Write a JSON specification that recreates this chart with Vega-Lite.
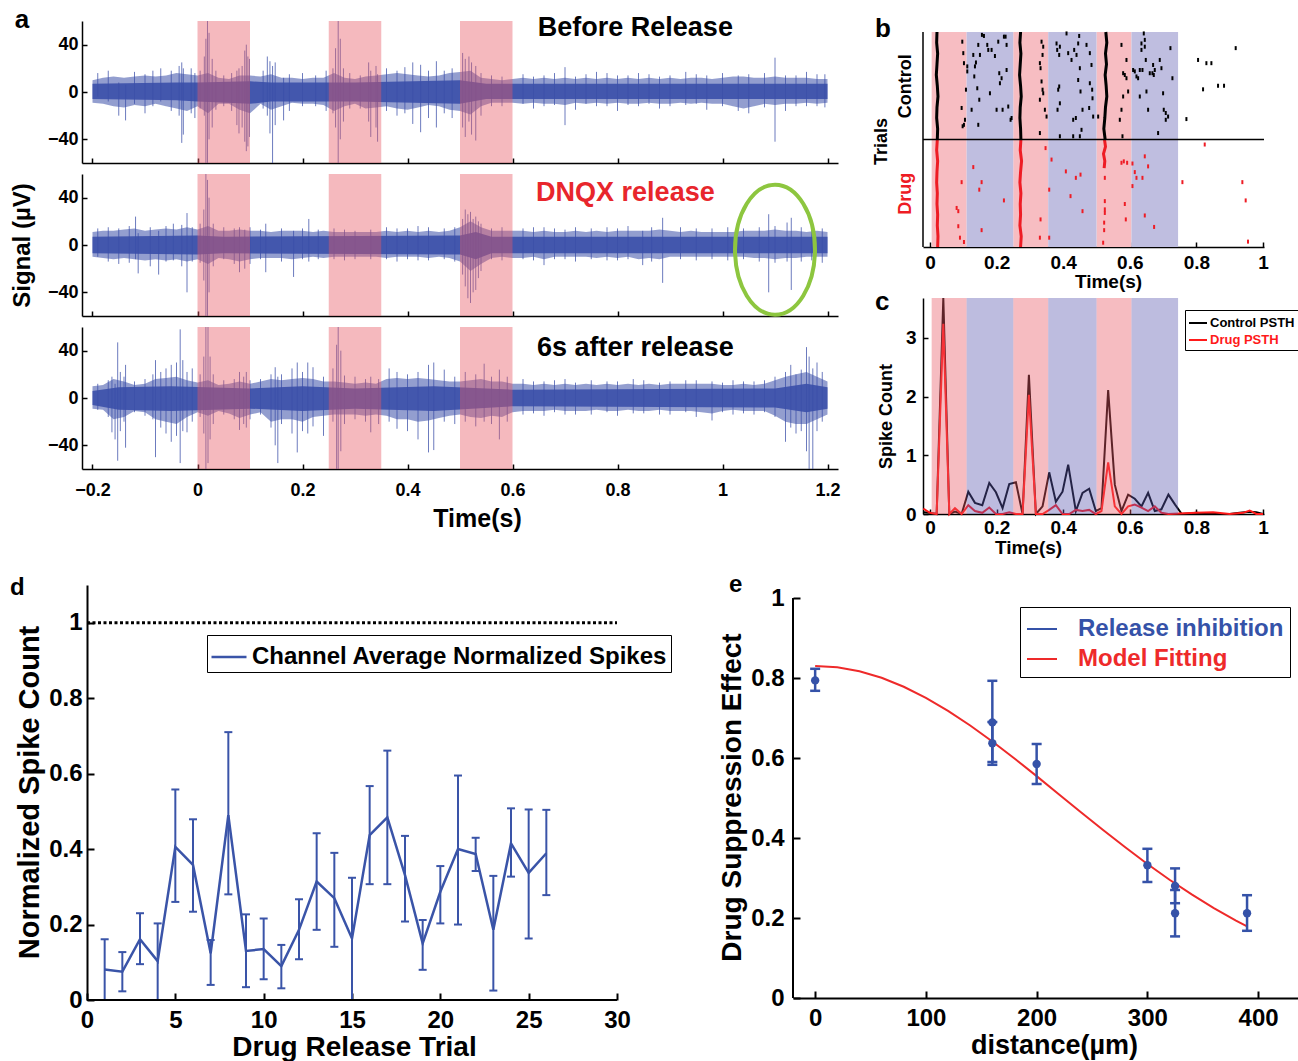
{
"$schema":"https://vega.github.io/schema/vega-lite/v6.json",
"background":"white",
"padding":{"left":10,"top":6,"right":0,"bottom":0},
"config":{"font":"Liberation Sans","view":{"stroke":null},
"axis":{"grid":false,"domainColor":"black","domainWidth":1.5,"tickColor":"black","tickWidth":1.5,"labelColor":"black","titleColor":"black","labelFontWeight":"bold","titleFontWeight":"bold","labelFlush":false,"labelOverlap":false},
"legend":{"labelColor":"black","labelLimit":600}},
"datasets":{
"band":[
{"k":1,"t":-0.2,"h":10,"l":-9},{"k":1,"t":-0.18,"h":12,"l":-10},{"k":1,"t":-0.16,"h":13,"l":-12},{"k":1,"t":-0.14,"h":12,"l":-13},{"k":1,"t":-0.12,"h":13,"l":-11},{"k":1,"t":-0.1,"h":14,"l":-12},{"k":1,"t":-0.08,"h":13,"l":-10},{"k":1,"t":-0.06,"h":14,"l":-12},{"k":1,"t":-0.04,"h":16,"l":-14},{"k":1,"t":-0.02,"h":15,"l":-16},{"k":1,"t":0,"h":14,"l":-12},{"k":1,"t":0.02,"h":16,"l":-18},{"k":1,"t":0.04,"h":12,"l":-10},{"k":1,"t":0.06,"h":11,"l":-10},{"k":1,"t":0.08,"h":14,"l":-15},{"k":1,"t":0.1,"h":14,"l":-18},{"k":1,"t":0.12,"h":13,"l":-10},{"k":1,"t":0.14,"h":15,"l":-15},{"k":1,"t":0.16,"h":12,"l":-12},{"k":1,"t":0.18,"h":12,"l":-9},{"k":1,"t":0.2,"h":11,"l":-10},{"k":1,"t":0.22,"h":12,"l":-10},{"k":1,"t":0.24,"h":12,"l":-11},{"k":1,"t":0.26,"h":16,"l":-16},{"k":1,"t":0.28,"h":12,"l":-12},{"k":1,"t":0.3,"h":11,"l":-10},{"k":1,"t":0.32,"h":13,"l":-14},{"k":1,"t":0.34,"h":14,"l":-13},{"k":1,"t":0.36,"h":15,"l":-12},{"k":1,"t":0.38,"h":16,"l":-14},{"k":1,"t":0.4,"h":15,"l":-15},{"k":1,"t":0.42,"h":14,"l":-13},{"k":1,"t":0.44,"h":13,"l":-11},{"k":1,"t":0.46,"h":14,"l":-12},{"k":1,"t":0.48,"h":16,"l":-15},{"k":1,"t":0.5,"h":17,"l":-16},{"k":1,"t":0.52,"h":18,"l":-19},{"k":1,"t":0.54,"h":12,"l":-12},{"k":1,"t":0.56,"h":11,"l":-9},{"k":1,"t":0.58,"h":10,"l":-9},{"k":1,"t":0.6,"h":11,"l":-9},{"k":1,"t":0.62,"h":12,"l":-10},{"k":1,"t":0.64,"h":11,"l":-9},{"k":1,"t":0.66,"h":12,"l":-10},{"k":1,"t":0.68,"h":11,"l":-10},{"k":1,"t":0.7,"h":12,"l":-11},{"k":1,"t":0.72,"h":11,"l":-9},{"k":1,"t":0.74,"h":12,"l":-10},{"k":1,"t":0.76,"h":11,"l":-9},{"k":1,"t":0.78,"h":12,"l":-10},{"k":1,"t":0.8,"h":11,"l":-9},{"k":1,"t":0.82,"h":12,"l":-10},{"k":1,"t":0.84,"h":11,"l":-10},{"k":1,"t":0.86,"h":12,"l":-9},{"k":1,"t":0.88,"h":11,"l":-10},{"k":1,"t":0.9,"h":12,"l":-10},{"k":1,"t":0.92,"h":11,"l":-9},{"k":1,"t":0.94,"h":12,"l":-10},{"k":1,"t":0.96,"h":12,"l":-9},{"k":1,"t":0.98,"h":11,"l":-10},{"k":1,"t":1,"h":12,"l":-10},{"k":1,"t":1.02,"h":13,"l":-12},{"k":1,"t":1.04,"h":13,"l":-14},{"k":1,"t":1.06,"h":12,"l":-12},{"k":1,"t":1.08,"h":12,"l":-10},{"k":1,"t":1.1,"h":13,"l":-11},{"k":1,"t":1.12,"h":12,"l":-10},{"k":1,"t":1.14,"h":12,"l":-10},{"k":1,"t":1.16,"h":12,"l":-9},{"k":1,"t":1.18,"h":11,"l":-10},{"k":1,"t":1.2,"h":11,"l":-9},
{"k":2,"t":-0.2,"h":11,"l":-10},{"k":2,"t":-0.18,"h":12,"l":-11},{"k":2,"t":-0.16,"h":12,"l":-12},{"k":2,"t":-0.14,"h":13,"l":-11},{"k":2,"t":-0.12,"h":14,"l":-12},{"k":2,"t":-0.1,"h":12,"l":-13},{"k":2,"t":-0.08,"h":13,"l":-12},{"k":2,"t":-0.06,"h":14,"l":-13},{"k":2,"t":-0.04,"h":13,"l":-12},{"k":2,"t":-0.02,"h":15,"l":-14},{"k":2,"t":0,"h":13,"l":-12},{"k":2,"t":0.02,"h":16,"l":-16},{"k":2,"t":0.04,"h":12,"l":-11},{"k":2,"t":0.06,"h":12,"l":-12},{"k":2,"t":0.08,"h":13,"l":-14},{"k":2,"t":0.1,"h":12,"l":-12},{"k":2,"t":0.12,"h":12,"l":-11},{"k":2,"t":0.14,"h":11,"l":-11},{"k":2,"t":0.16,"h":12,"l":-11},{"k":2,"t":0.18,"h":12,"l":-12},{"k":2,"t":0.2,"h":12,"l":-11},{"k":2,"t":0.22,"h":11,"l":-10},{"k":2,"t":0.24,"h":12,"l":-11},{"k":2,"t":0.26,"h":11,"l":-10},{"k":2,"t":0.28,"h":11,"l":-10},{"k":2,"t":0.3,"h":11,"l":-10},{"k":2,"t":0.32,"h":11,"l":-10},{"k":2,"t":0.34,"h":11,"l":-10},{"k":2,"t":0.36,"h":12,"l":-11},{"k":2,"t":0.38,"h":11,"l":-10},{"k":2,"t":0.4,"h":12,"l":-10},{"k":2,"t":0.42,"h":11,"l":-10},{"k":2,"t":0.44,"h":12,"l":-11},{"k":2,"t":0.46,"h":11,"l":-10},{"k":2,"t":0.48,"h":12,"l":-11},{"k":2,"t":0.5,"h":15,"l":-14},{"k":2,"t":0.52,"h":20,"l":-22},{"k":2,"t":0.54,"h":15,"l":-16},{"k":2,"t":0.56,"h":12,"l":-11},{"k":2,"t":0.58,"h":12,"l":-10},{"k":2,"t":0.6,"h":12,"l":-11},{"k":2,"t":0.62,"h":12,"l":-11},{"k":2,"t":0.64,"h":11,"l":-10},{"k":2,"t":0.66,"h":12,"l":-12},{"k":2,"t":0.68,"h":11,"l":-10},{"k":2,"t":0.7,"h":11,"l":-10},{"k":2,"t":0.72,"h":12,"l":-10},{"k":2,"t":0.74,"h":11,"l":-10},{"k":2,"t":0.76,"h":12,"l":-11},{"k":2,"t":0.78,"h":11,"l":-10},{"k":2,"t":0.8,"h":12,"l":-11},{"k":2,"t":0.82,"h":12,"l":-10},{"k":2,"t":0.84,"h":12,"l":-12},{"k":2,"t":0.86,"h":12,"l":-11},{"k":2,"t":0.88,"h":13,"l":-12},{"k":2,"t":0.9,"h":12,"l":-10},{"k":2,"t":0.92,"h":11,"l":-10},{"k":2,"t":0.94,"h":12,"l":-10},{"k":2,"t":0.96,"h":11,"l":-10},{"k":2,"t":0.98,"h":11,"l":-10},{"k":2,"t":1,"h":11,"l":-10},{"k":2,"t":1.02,"h":11,"l":-10},{"k":2,"t":1.04,"h":12,"l":-10},{"k":2,"t":1.06,"h":12,"l":-11},{"k":2,"t":1.08,"h":12,"l":-11},{"k":2,"t":1.1,"h":13,"l":-12},{"k":2,"t":1.12,"h":12,"l":-11},{"k":2,"t":1.14,"h":12,"l":-11},{"k":2,"t":1.16,"h":11,"l":-10},{"k":2,"t":1.18,"h":12,"l":-10},{"k":2,"t":1.2,"h":11,"l":-10},
{"k":3,"t":-0.2,"h":10,"l":-9},{"k":3,"t":-0.18,"h":11,"l":-10},{"k":3,"t":-0.16,"h":16,"l":-18},{"k":3,"t":-0.14,"h":14,"l":-16},{"k":3,"t":-0.12,"h":11,"l":-11},{"k":3,"t":-0.1,"h":12,"l":-12},{"k":3,"t":-0.08,"h":16,"l":-18},{"k":3,"t":-0.06,"h":17,"l":-20},{"k":3,"t":-0.04,"h":18,"l":-22},{"k":3,"t":-0.02,"h":15,"l":-16},{"k":3,"t":0,"h":13,"l":-12},{"k":3,"t":0.02,"h":15,"l":-15},{"k":3,"t":0.04,"h":11,"l":-11},{"k":3,"t":0.06,"h":12,"l":-13},{"k":3,"t":0.08,"h":14,"l":-17},{"k":3,"t":0.1,"h":12,"l":-14},{"k":3,"t":0.12,"h":14,"l":-12},{"k":3,"t":0.14,"h":16,"l":-20},{"k":3,"t":0.16,"h":15,"l":-18},{"k":3,"t":0.18,"h":16,"l":-18},{"k":3,"t":0.2,"h":17,"l":-20},{"k":3,"t":0.22,"h":16,"l":-16},{"k":3,"t":0.24,"h":14,"l":-15},{"k":3,"t":0.26,"h":14,"l":-14},{"k":3,"t":0.28,"h":13,"l":-14},{"k":3,"t":0.3,"h":12,"l":-14},{"k":3,"t":0.32,"h":13,"l":-15},{"k":3,"t":0.34,"h":12,"l":-14},{"k":3,"t":0.36,"h":16,"l":-15},{"k":3,"t":0.38,"h":17,"l":-18},{"k":3,"t":0.4,"h":16,"l":-18},{"k":3,"t":0.42,"h":17,"l":-20},{"k":3,"t":0.44,"h":16,"l":-19},{"k":3,"t":0.46,"h":15,"l":-17},{"k":3,"t":0.48,"h":14,"l":-15},{"k":3,"t":0.5,"h":14,"l":-14},{"k":3,"t":0.52,"h":15,"l":-16},{"k":3,"t":0.54,"h":16,"l":-17},{"k":3,"t":0.56,"h":14,"l":-15},{"k":3,"t":0.58,"h":14,"l":-16},{"k":3,"t":0.6,"h":12,"l":-12},{"k":3,"t":0.62,"h":12,"l":-11},{"k":3,"t":0.64,"h":11,"l":-11},{"k":3,"t":0.66,"h":12,"l":-11},{"k":3,"t":0.68,"h":11,"l":-10},{"k":3,"t":0.7,"h":12,"l":-11},{"k":3,"t":0.72,"h":11,"l":-11},{"k":3,"t":0.74,"h":12,"l":-11},{"k":3,"t":0.76,"h":11,"l":-10},{"k":3,"t":0.78,"h":12,"l":-11},{"k":3,"t":0.8,"h":11,"l":-11},{"k":3,"t":0.82,"h":12,"l":-10},{"k":3,"t":0.84,"h":11,"l":-11},{"k":3,"t":0.86,"h":12,"l":-11},{"k":3,"t":0.88,"h":11,"l":-10},{"k":3,"t":0.9,"h":12,"l":-11},{"k":3,"t":0.92,"h":12,"l":-11},{"k":3,"t":0.94,"h":12,"l":-11},{"k":3,"t":0.96,"h":12,"l":-12},{"k":3,"t":0.98,"h":12,"l":-13},{"k":3,"t":1,"h":11,"l":-11},{"k":3,"t":1.02,"h":11,"l":-10},{"k":3,"t":1.04,"h":12,"l":-11},{"k":3,"t":1.06,"h":11,"l":-11},{"k":3,"t":1.08,"h":12,"l":-11},{"k":3,"t":1.1,"h":15,"l":-15},{"k":3,"t":1.12,"h":18,"l":-20},{"k":3,"t":1.14,"h":20,"l":-22},{"k":3,"t":1.16,"h":22,"l":-22},{"k":3,"t":1.18,"h":18,"l":-18},{"k":3,"t":1.2,"h":14,"l":-14}
],
"core":[
{"k":1,"t":-0.2,"h":7,"l":-6},{"k":1,"t":-0.04,"h":8,"l":-7},{"k":1,"t":0,"h":8,"l":-8},{"k":1,"t":0.1,"h":9,"l":-10},{"k":1,"t":0.14,"h":8,"l":-8},{"k":1,"t":0.3,"h":8,"l":-8},{"k":1,"t":0.5,"h":10,"l":-10},{"k":1,"t":0.55,"h":7,"l":-6},{"k":1,"t":1.2,"h":7,"l":-6},
{"k":2,"t":-0.2,"h":7,"l":-7},{"k":2,"t":0,"h":8,"l":-8},{"k":2,"t":0.05,"h":7,"l":-7},{"k":2,"t":0.5,"h":8,"l":-8},{"k":2,"t":0.53,"h":11,"l":-12},{"k":2,"t":0.56,"h":7,"l":-7},{"k":2,"t":1.2,"h":7,"l":-7},
{"k":3,"t":-0.2,"h":6,"l":-6},{"k":3,"t":-0.15,"h":9,"l":-10},{"k":3,"t":-0.05,"h":10,"l":-11},{"k":3,"t":0.1,"h":8,"l":-9},{"k":3,"t":0.2,"h":10,"l":-11},{"k":3,"t":0.3,"h":8,"l":-9},{"k":3,"t":0.45,"h":10,"l":-11},{"k":3,"t":0.6,"h":7,"l":-7},{"k":3,"t":1.1,"h":8,"l":-8},{"k":3,"t":1.16,"h":12,"l":-12},{"k":3,"t":1.2,"h":9,"l":-9}
],
"spk":[
{"k":1,"t":-0.19,"h":16,"l":-4},{"k":1,"t":-0.17,"h":18,"l":-8},{"k":1,"t":-0.15,"h":8,"l":-20},{"k":1,"t":-0.137,"h":6,"l":-24},{"k":1,"t":-0.12,"h":17,"l":-10},{"k":1,"t":-0.1,"h":15,"l":-18},{"k":1,"t":-0.085,"h":18,"l":-12},{"k":1,"t":-0.07,"h":20,"l":-8},{"k":1,"t":-0.05,"h":18,"l":-16},{"k":1,"t":-0.035,"h":22,"l":-20},{"k":1,"t":-0.03,"h":25,"l":-43},{"k":1,"t":-0.027,"h":20,"l":-36},{"k":1,"t":-0.012,"h":20,"l":-18},{"k":1,"t":-0.005,"h":16,"l":-22},{"k":1,"t":0.005,"h":18,"l":-14},{"k":1,"t":0.013,"h":30,"l":-20},{"k":1,"t":0.016,"h":45,"l":-60},{"k":1,"t":0.019,"h":60,"l":-60},{"k":1,"t":0.022,"h":50,"l":-40},{"k":1,"t":0.028,"h":28,"l":-30},{"k":1,"t":0.035,"h":18,"l":-15},{"k":1,"t":0.05,"h":14,"l":-12},{"k":1,"t":0.065,"h":16,"l":-16},{"k":1,"t":0.075,"h":18,"l":-28},{"k":1,"t":0.079,"h":20,"l":-35},{"k":1,"t":0.085,"h":22,"l":-30},{"k":1,"t":0.09,"h":35,"l":-42},{"k":1,"t":0.093,"h":40,"l":-50},{"k":1,"t":0.096,"h":30,"l":-46},{"k":1,"t":0.099,"h":28,"l":-38},{"k":1,"t":0.125,"h":18,"l":-14},{"k":1,"t":0.133,"h":30,"l":-20},{"k":1,"t":0.138,"h":26,"l":-35},{"k":1,"t":0.143,"h":22,"l":-60},{"k":1,"t":0.148,"h":25,"l":-28},{"k":1,"t":0.164,"h":12,"l":-24},{"k":1,"t":0.175,"h":15,"l":-16},{"k":1,"t":0.2,"h":16,"l":-12},{"k":1,"t":0.225,"h":14,"l":-12},{"k":1,"t":0.245,"h":18,"l":-16},{"k":1,"t":0.258,"h":20,"l":-18},{"k":1,"t":0.263,"h":37,"l":-30},{"k":1,"t":0.268,"h":60,"l":-60},{"k":1,"t":0.272,"h":45,"l":-40},{"k":1,"t":0.278,"h":20,"l":-25},{"k":1,"t":0.29,"h":16,"l":-14},{"k":1,"t":0.31,"h":14,"l":-14},{"k":1,"t":0.326,"h":25,"l":-25},{"k":1,"t":0.33,"h":18,"l":-38},{"k":1,"t":0.34,"h":22,"l":-30},{"k":1,"t":0.343,"h":15,"l":-42},{"k":1,"t":0.36,"h":20,"l":-16},{"k":1,"t":0.38,"h":18,"l":-20},{"k":1,"t":0.395,"h":21,"l":-18},{"k":1,"t":0.41,"h":25,"l":-27},{"k":1,"t":0.425,"h":23,"l":-34},{"k":1,"t":0.44,"h":18,"l":-22},{"k":1,"t":0.455,"h":26,"l":-30},{"k":1,"t":0.47,"h":18,"l":-18},{"k":1,"t":0.485,"h":20,"l":-22},{"k":1,"t":0.505,"h":33,"l":-30},{"k":1,"t":0.51,"h":28,"l":-38},{"k":1,"t":0.517,"h":30,"l":-25},{"k":1,"t":0.522,"h":25,"l":-36},{"k":1,"t":0.53,"h":22,"l":-41},{"k":1,"t":0.54,"h":16,"l":-20},{"k":1,"t":0.56,"h":14,"l":-12},{"k":1,"t":0.58,"h":13,"l":-12},{"k":1,"t":0.62,"h":15,"l":-10},{"k":1,"t":0.64,"h":13,"l":-14},{"k":1,"t":0.66,"h":14,"l":-12},{"k":1,"t":0.68,"h":16,"l":-11},{"k":1,"t":0.7,"h":21,"l":-28},{"k":1,"t":0.72,"h":13,"l":-15},{"k":1,"t":0.74,"h":15,"l":-10},{"k":1,"t":0.76,"h":17,"l":-12},{"k":1,"t":0.78,"h":16,"l":-12},{"k":1,"t":0.8,"h":14,"l":-16},{"k":1,"t":0.82,"h":14,"l":-11},{"k":1,"t":0.84,"h":16,"l":-12},{"k":1,"t":0.86,"h":15,"l":-10},{"k":1,"t":0.88,"h":13,"l":-14},{"k":1,"t":0.9,"h":14,"l":-12},{"k":1,"t":0.93,"h":17,"l":-11},{"k":1,"t":0.95,"h":15,"l":-10},{"k":1,"t":0.97,"h":14,"l":-15},{"k":1,"t":1,"h":16,"l":-12},{"k":1,"t":1.03,"h":14,"l":-16},{"k":1,"t":1.05,"h":15,"l":-18},{"k":1,"t":1.08,"h":16,"l":-13},{"k":1,"t":1.1,"h":29,"l":-42},{"k":1,"t":1.12,"h":14,"l":-16},{"k":1,"t":1.14,"h":14,"l":-12},{"k":1,"t":1.16,"h":17,"l":-12},{"k":1,"t":1.18,"h":15,"l":-12},{"k":1,"t":1.195,"h":15,"l":-13},
{"k":2,"t":-0.19,"h":14,"l":-10},{"k":2,"t":-0.17,"h":15,"l":-14},{"k":2,"t":-0.15,"h":14,"l":-16},{"k":2,"t":-0.13,"h":16,"l":-15},{"k":2,"t":-0.118,"h":24,"l":-12},{"k":2,"t":-0.113,"h":10,"l":-24},{"k":2,"t":-0.09,"h":15,"l":-18},{"k":2,"t":-0.074,"h":12,"l":-25},{"k":2,"t":-0.06,"h":16,"l":-14},{"k":2,"t":-0.046,"h":18,"l":-13},{"k":2,"t":-0.03,"h":17,"l":-18},{"k":2,"t":-0.02,"h":27,"l":-40},{"k":2,"t":-0.01,"h":15,"l":-14},{"k":2,"t":0.005,"h":18,"l":-15},{"k":2,"t":0.012,"h":30,"l":-30},{"k":2,"t":0.016,"h":60,"l":-60},{"k":2,"t":0.019,"h":55,"l":-60},{"k":2,"t":0.022,"h":40,"l":-40},{"k":2,"t":0.03,"h":18,"l":-18},{"k":2,"t":0.05,"h":15,"l":-12},{"k":2,"t":0.07,"h":14,"l":-16},{"k":2,"t":0.08,"h":15,"l":-23},{"k":2,"t":0.09,"h":13,"l":-20},{"k":2,"t":0.1,"h":15,"l":-16},{"k":2,"t":0.12,"h":13,"l":-12},{"k":2,"t":0.13,"h":18,"l":-23},{"k":2,"t":0.16,"h":14,"l":-14},{"k":2,"t":0.183,"h":12,"l":-27},{"k":2,"t":0.2,"h":14,"l":-12},{"k":2,"t":0.212,"h":22,"l":-14},{"k":2,"t":0.23,"h":13,"l":-12},{"k":2,"t":0.26,"h":14,"l":-12},{"k":2,"t":0.28,"h":13,"l":-13},{"k":2,"t":0.3,"h":12,"l":-12},{"k":2,"t":0.33,"h":13,"l":-12},{"k":2,"t":0.36,"h":15,"l":-12},{"k":2,"t":0.38,"h":14,"l":-14},{"k":2,"t":0.4,"h":14,"l":-12},{"k":2,"t":0.42,"h":16,"l":-13},{"k":2,"t":0.44,"h":15,"l":-13},{"k":2,"t":0.47,"h":14,"l":-12},{"k":2,"t":0.49,"h":15,"l":-14},{"k":2,"t":0.505,"h":22,"l":-25},{"k":2,"t":0.51,"h":30,"l":-35},{"k":2,"t":0.515,"h":26,"l":-45},{"k":2,"t":0.52,"h":28,"l":-49},{"k":2,"t":0.525,"h":22,"l":-40},{"k":2,"t":0.53,"h":24,"l":-38},{"k":2,"t":0.535,"h":20,"l":-28},{"k":2,"t":0.54,"h":18,"l":-22},{"k":2,"t":0.56,"h":14,"l":-12},{"k":2,"t":0.58,"h":15,"l":-13},{"k":2,"t":0.62,"h":14,"l":-12},{"k":2,"t":0.64,"h":15,"l":-13},{"k":2,"t":0.66,"h":15,"l":-17},{"k":2,"t":0.68,"h":14,"l":-12},{"k":2,"t":0.7,"h":13,"l":-12},{"k":2,"t":0.72,"h":15,"l":-14},{"k":2,"t":0.75,"h":14,"l":-12},{"k":2,"t":0.78,"h":15,"l":-13},{"k":2,"t":0.8,"h":14,"l":-13},{"k":2,"t":0.82,"h":16,"l":-12},{"k":2,"t":0.848,"h":12,"l":-17},{"k":2,"t":0.865,"h":15,"l":-14},{"k":2,"t":0.886,"h":23,"l":-32},{"k":2,"t":0.92,"h":15,"l":-12},{"k":2,"t":0.95,"h":14,"l":-13},{"k":2,"t":0.98,"h":14,"l":-12},{"k":2,"t":1.01,"h":15,"l":-13},{"k":2,"t":1.04,"h":14,"l":-12},{"k":2,"t":1.07,"h":15,"l":-14},{"k":2,"t":1.088,"h":26,"l":-40},{"k":2,"t":1.1,"h":16,"l":-15},{"k":2,"t":1.123,"h":19,"l":-14},{"k":2,"t":1.131,"h":23,"l":-38},{"k":2,"t":1.15,"h":15,"l":-14},{"k":2,"t":1.17,"h":14,"l":-13},{"k":2,"t":1.19,"h":14,"l":-15},
{"k":3,"t":-0.19,"h":12,"l":-10},{"k":3,"t":-0.17,"h":15,"l":-16},{"k":3,"t":-0.163,"h":18,"l":-29},{"k":3,"t":-0.157,"h":12,"l":-35},{"k":3,"t":-0.152,"h":47,"l":-53},{"k":3,"t":-0.147,"h":22,"l":-28},{"k":3,"t":-0.14,"h":18,"l":-20},{"k":3,"t":-0.137,"h":28,"l":-42},{"k":3,"t":-0.12,"h":14,"l":-12},{"k":3,"t":-0.1,"h":16,"l":-15},{"k":3,"t":-0.085,"h":20,"l":-18},{"k":3,"t":-0.08,"h":32,"l":-50},{"k":3,"t":-0.07,"h":22,"l":-25},{"k":3,"t":-0.06,"h":25,"l":-30},{"k":3,"t":-0.05,"h":28,"l":-37},{"k":3,"t":-0.04,"h":30,"l":-32},{"k":3,"t":-0.033,"h":58,"l":-55},{"k":3,"t":-0.028,"h":32,"l":-28},{"k":3,"t":-0.02,"h":22,"l":-29},{"k":3,"t":-0.01,"h":25,"l":-20},{"k":3,"t":0.005,"h":20,"l":-16},{"k":3,"t":0.012,"h":35,"l":-30},{"k":3,"t":0.016,"h":60,"l":-60},{"k":3,"t":0.02,"h":60,"l":-55},{"k":3,"t":0.024,"h":35,"l":-35},{"k":3,"t":0.03,"h":20,"l":-22},{"k":3,"t":0.05,"h":15,"l":-14},{"k":3,"t":0.07,"h":16,"l":-18},{"k":3,"t":0.08,"h":22,"l":-27},{"k":3,"t":0.088,"h":18,"l":-22},{"k":3,"t":0.093,"h":22,"l":-25},{"k":3,"t":0.1,"h":15,"l":-18},{"k":3,"t":0.12,"h":16,"l":-14},{"k":3,"t":0.14,"h":20,"l":-25},{"k":3,"t":0.148,"h":26,"l":-40},{"k":3,"t":0.153,"h":18,"l":-55},{"k":3,"t":0.16,"h":20,"l":-22},{"k":3,"t":0.18,"h":25,"l":-30},{"k":3,"t":0.19,"h":30,"l":-46},{"k":3,"t":0.2,"h":22,"l":-28},{"k":3,"t":0.21,"h":30,"l":-30},{"k":3,"t":0.22,"h":26,"l":-24},{"k":3,"t":0.24,"h":18,"l":-32},{"k":3,"t":0.258,"h":25,"l":-20},{"k":3,"t":0.265,"h":45,"l":-60},{"k":3,"t":0.268,"h":60,"l":-60},{"k":3,"t":0.273,"h":40,"l":-45},{"k":3,"t":0.28,"h":19,"l":-22},{"k":3,"t":0.3,"h":18,"l":-18},{"k":3,"t":0.32,"h":16,"l":-20},{"k":3,"t":0.33,"h":18,"l":-29},{"k":3,"t":0.345,"h":16,"l":-22},{"k":3,"t":0.365,"h":25,"l":-20},{"k":3,"t":0.38,"h":22,"l":-26},{"k":3,"t":0.4,"h":20,"l":-28},{"k":3,"t":0.42,"h":22,"l":-35},{"k":3,"t":0.44,"h":28,"l":-46},{"k":3,"t":0.45,"h":30,"l":-44},{"k":3,"t":0.47,"h":24,"l":-20},{"k":3,"t":0.49,"h":18,"l":-22},{"k":3,"t":0.51,"h":22,"l":-20},{"k":3,"t":0.53,"h":20,"l":-24},{"k":3,"t":0.546,"h":29,"l":-20},{"k":3,"t":0.56,"h":18,"l":-22},{"k":3,"t":0.575,"h":24,"l":-35},{"k":3,"t":0.59,"h":18,"l":-20},{"k":3,"t":0.62,"h":16,"l":-14},{"k":3,"t":0.64,"h":14,"l":-13},{"k":3,"t":0.66,"h":14,"l":-15},{"k":3,"t":0.68,"h":15,"l":-12},{"k":3,"t":0.7,"h":16,"l":-14},{"k":3,"t":0.72,"h":13,"l":-14},{"k":3,"t":0.75,"h":15,"l":-14},{"k":3,"t":0.78,"h":14,"l":-12},{"k":3,"t":0.8,"h":14,"l":-15},{"k":3,"t":0.83,"h":16,"l":-13},{"k":3,"t":0.85,"h":15,"l":-13},{"k":3,"t":0.88,"h":13,"l":-14},{"k":3,"t":0.9,"h":14,"l":-14},{"k":3,"t":0.93,"h":15,"l":-12},{"k":3,"t":0.95,"h":15,"l":-16},{"k":3,"t":0.98,"h":14,"l":-19},{"k":3,"t":1,"h":13,"l":-12},{"k":3,"t":1.02,"h":15,"l":-14},{"k":3,"t":1.04,"h":14,"l":-13},{"k":3,"t":1.06,"h":14,"l":-14},{"k":3,"t":1.08,"h":15,"l":-12},{"k":3,"t":1.1,"h":18,"l":-16},{"k":3,"t":1.12,"h":22,"l":-37},{"k":3,"t":1.13,"h":28,"l":-25},{"k":3,"t":1.14,"h":20,"l":-30},{"k":3,"t":1.15,"h":24,"l":-28},{"k":3,"t":1.16,"h":43,"l":-45},{"k":3,"t":1.165,"h":35,"l":-60},{"k":3,"t":1.172,"h":25,"l":-60},{"k":3,"t":1.18,"h":30,"l":-28},{"k":3,"t":1.19,"h":22,"l":-20}
],
"letters":[{"p":"a","x":-0.348,"y":54.1,"label":"a"},{"p":"b","x":-0.165,"y":1.4,"label":"b"},{"p":"c","x":-0.165,"y":3.476,"label":"c"},{"p":"d","x":-4.358,"y":1.0735,"label":"d"},{"p":"e","x":-77.8,"y":1.015,"label":"e"}],
"pinkA":[{"s":0,"e":0.1},{"s":0.25,"e":0.35},{"s":0.5,"e":0.6}],
"pinkB":[{"s":0.005,"e":0.11},{"s":0.25,"e":0.355},{"s":0.5,"e":0.605}],
"blueB":[{"s":0.11,"e":0.25},{"s":0.355,"e":0.5},{"s":0.605,"e":0.745}],
"lbl":[{"k":1,"t":0.834,"v":54,"label":"Before Release"},{"k":2,"t":0.815,"v":44,"label":"DNQX release"},{"k":3,"t":0.834,"v":42,"label":"6s after release"}],
"ell":[{"t":1.1,"v":-4}],
"rcol":[
{"col":"c1","g":"C","t":0.021,"y":0},{"col":"c1","g":"C","t":0.02,"y":3},{"col":"c1","g":"C","t":0.023,"y":6},{"col":"c1","g":"C","t":0.021,"y":9},{"col":"c1","g":"C","t":0.019,"y":12},{"col":"c1","g":"C","t":0.022,"y":15},{"col":"c1","g":"C","t":0.024,"y":18},{"col":"c1","g":"C","t":0.021,"y":21},{"col":"c1","g":"C","t":0.02,"y":24},{"col":"c1","g":"C","t":0.023,"y":27},{"col":"c1","g":"C","t":0.022,"y":30},
{"col":"c2","g":"C","t":0.272,"y":0},{"col":"c2","g":"C","t":0.27,"y":3},{"col":"c2","g":"C","t":0.273,"y":6},{"col":"c2","g":"C","t":0.271,"y":9},{"col":"c2","g":"C","t":0.269,"y":12},{"col":"c2","g":"C","t":0.272,"y":15},{"col":"c2","g":"C","t":0.274,"y":18},{"col":"c2","g":"C","t":0.271,"y":21},{"col":"c2","g":"C","t":0.27,"y":24},{"col":"c2","g":"C","t":0.272,"y":27},{"col":"c2","g":"C","t":0.273,"y":30},
{"col":"c3","g":"C","t":0.528,"y":0},{"col":"c3","g":"C","t":0.531,"y":3},{"col":"c3","g":"C","t":0.527,"y":6},{"col":"c3","g":"C","t":0.53,"y":9},{"col":"c3","g":"C","t":0.526,"y":12},{"col":"c3","g":"C","t":0.529,"y":15},{"col":"c3","g":"C","t":0.531,"y":18},{"col":"c3","g":"C","t":0.527,"y":21},{"col":"c3","g":"C","t":0.525,"y":24},{"col":"c3","g":"C","t":0.522,"y":27},{"col":"c3","g":"C","t":0.526,"y":30},
{"col":"d1","g":"D","t":0.022,"y":30},{"col":"d1","g":"D","t":0.02,"y":33},{"col":"d1","g":"D","t":0.023,"y":36},{"col":"d1","g":"D","t":0.021,"y":39},{"col":"d1","g":"D","t":0.02,"y":42},{"col":"d1","g":"D","t":0.022,"y":45},{"col":"d1","g":"D","t":0.021,"y":48},{"col":"d1","g":"D","t":0.023,"y":51},{"col":"d1","g":"D","t":0.022,"y":54},{"col":"d1","g":"D","t":0.024,"y":57},{"col":"d1","g":"D","t":0.023,"y":60},
{"col":"d2","g":"D","t":0.273,"y":30},{"col":"d2","g":"D","t":0.271,"y":33},{"col":"d2","g":"D","t":0.275,"y":36},{"col":"d2","g":"D","t":0.272,"y":39},{"col":"d2","g":"D","t":0.27,"y":42},{"col":"d2","g":"D","t":0.273,"y":45},{"col":"d2","g":"D","t":0.271,"y":48},{"col":"d2","g":"D","t":0.272,"y":51},{"col":"d2","g":"D","t":0.27,"y":54},{"col":"d2","g":"D","t":0.274,"y":57},{"col":"d2","g":"D","t":0.272,"y":60},
{"col":"d3","g":"D","t":0.524,"y":30},{"col":"d3","g":"D","t":0.527,"y":32},{"col":"d3","g":"D","t":0.521,"y":34},{"col":"d3","g":"D","t":0.525,"y":36},{"col":"d3","g":"D","t":0.523,"y":38}
],
"rast":[
{"g":"C","t":0.097,"y":2.7},{"g":"C","t":0.1,"y":5.9},{"g":"C","t":0.102,"y":8.7},{"g":"C","t":0.112,"y":9.6},{"g":"C","t":0.112,"y":11},{"g":"C","t":0.108,"y":16.1},{"g":"C","t":0.095,"y":21.2},{"g":"C","t":0.105,"y":24.5},{"g":"C","t":0.102,"y":25.9},{"g":"C","t":0.098,"y":26.3},{"g":"C","t":0.13,"y":6.4},{"g":"C","t":0.133,"y":12.4},{"g":"C","t":0.138,"y":8.5},{"g":"C","t":0.145,"y":3.6},{"g":"C","t":0.15,"y":6.4},{"g":"C","t":0.142,"y":15.7},{"g":"C","t":0.148,"y":18.9},{"g":"C","t":0.156,"y":0.8},{"g":"C","t":0.162,"y":1.1},{"g":"C","t":0.172,"y":3.6},{"g":"C","t":0.175,"y":5},{"g":"C","t":0.18,"y":17.1},{"g":"C","t":0.185,"y":5},{"g":"C","t":0.195,"y":6.7},{"g":"C","t":0.2,"y":21.7},{"g":"C","t":0.205,"y":2.7},{"g":"C","t":0.208,"y":11.5},{"g":"C","t":0.21,"y":14.3},{"g":"C","t":0.215,"y":12.9},{"g":"C","t":0.218,"y":21.7},{"g":"C","t":0.222,"y":1.3},{"g":"C","t":0.227,"y":1.3},{"g":"C","t":0.23,"y":3.6},{"g":"C","t":0.23,"y":10.6},{"g":"C","t":0.235,"y":20.8},{"g":"C","t":0.242,"y":24.5},{"g":"C","t":0.245,"y":24},{"g":"C","t":0.125,"y":21.7},{"g":"C","t":0.145,"y":25.9},{"g":"C","t":0.135,"y":9.6},
{"g":"C","t":0.335,"y":2.7},{"g":"C","t":0.34,"y":4.1},{"g":"C","t":0.338,"y":6.4},{"g":"C","t":0.33,"y":8.7},{"g":"C","t":0.332,"y":10.1},{"g":"C","t":0.335,"y":13.8},{"g":"C","t":0.338,"y":16.1},{"g":"C","t":0.33,"y":18.9},{"g":"C","t":0.345,"y":21.7},{"g":"C","t":0.35,"y":23.6},{"g":"C","t":0.33,"y":28.2},{"g":"C","t":0.34,"y":17.1},{"g":"C","t":0.38,"y":3.2},{"g":"C","t":0.382,"y":5},{"g":"C","t":0.388,"y":6.4},{"g":"C","t":0.39,"y":4.1},{"g":"C","t":0.385,"y":16.1},{"g":"C","t":0.388,"y":15.2},{"g":"C","t":0.39,"y":19.9},{"g":"C","t":0.383,"y":21.7},{"g":"C","t":0.39,"y":29.1},{"g":"C","t":0.41,"y":0.4},{"g":"C","t":0.415,"y":5.9},{"g":"C","t":0.425,"y":7.8},{"g":"C","t":0.433,"y":5},{"g":"C","t":0.44,"y":6.4},{"g":"C","t":0.445,"y":3.2},{"g":"C","t":0.448,"y":1.1},{"g":"C","t":0.45,"y":10.1},{"g":"C","t":0.445,"y":13.4},{"g":"C","t":0.452,"y":16.6},{"g":"C","t":0.438,"y":24},{"g":"C","t":0.43,"y":24.5},{"g":"C","t":0.455,"y":27.3},{"g":"C","t":0.458,"y":21.7},{"g":"C","t":0.47,"y":3.6},{"g":"C","t":0.48,"y":5.9},{"g":"C","t":0.485,"y":9.2},{"g":"C","t":0.48,"y":14.3},{"g":"C","t":0.487,"y":16.1},{"g":"C","t":0.478,"y":21.2},{"g":"C","t":0.488,"y":18.5},{"g":"C","t":0.45,"y":29.1},{"g":"C","t":0.49,"y":23.6},{"g":"C","t":0.505,"y":23.6},{"g":"C","t":0.43,"y":29.1},
{"g":"C","t":0.575,"y":3.6},{"g":"C","t":0.58,"y":11.5},{"g":"C","t":0.585,"y":12},{"g":"C","t":0.59,"y":12.9},{"g":"C","t":0.595,"y":16.6},{"g":"C","t":0.58,"y":18},{"g":"C","t":0.575,"y":21.7},{"g":"C","t":0.57,"y":24.5},{"g":"C","t":0.578,"y":29.1},{"g":"C","t":0.61,"y":10.6},{"g":"C","t":0.615,"y":11},{"g":"C","t":0.62,"y":12.4},{"g":"C","t":0.625,"y":12.9},{"g":"C","t":0.63,"y":10.6},{"g":"C","t":0.638,"y":10.6},{"g":"C","t":0.645,"y":2.2},{"g":"C","t":0.642,"y":0.4},{"g":"C","t":0.635,"y":3.2},{"g":"C","t":0.645,"y":4.1},{"g":"C","t":0.648,"y":7.8},{"g":"C","t":0.66,"y":11.5},{"g":"C","t":0.668,"y":11.5},{"g":"C","t":0.672,"y":12},{"g":"C","t":0.65,"y":16.6},{"g":"C","t":0.67,"y":9.2},{"g":"C","t":0.675,"y":10.6},{"g":"C","t":0.69,"y":7.8},{"g":"C","t":0.695,"y":10.1},{"g":"C","t":0.7,"y":17.1},{"g":"C","t":0.702,"y":21.7},{"g":"C","t":0.708,"y":22.6},{"g":"C","t":0.715,"y":23.6},{"g":"C","t":0.708,"y":24.5},{"g":"C","t":0.685,"y":28.2},{"g":"C","t":0.722,"y":4.5},{"g":"C","t":0.728,"y":12.9},{"g":"C","t":0.59,"y":7.8},{"g":"C","t":0.655,"y":21.7},{"g":"C","t":0.63,"y":18},{"g":"C","t":0.635,"y":5},
{"g":"C","t":0.77,"y":24.3},{"g":"C","t":0.805,"y":7.8},{"g":"C","t":0.82,"y":16},{"g":"C","t":0.83,"y":8.7},{"g":"C","t":0.845,"y":8.7},{"g":"C","t":0.865,"y":15},{"g":"C","t":0.883,"y":15},{"g":"C","t":0.918,"y":4.5},
{"g":"D","t":0.13,"y":37.7},{"g":"D","t":0.095,"y":41.9},{"g":"D","t":0.155,"y":41.9},{"g":"D","t":0.148,"y":44},{"g":"D","t":0.222,"y":47},{"g":"D","t":0.08,"y":49.1},{"g":"D","t":0.085,"y":50},{"g":"D","t":0.085,"y":54.2},{"g":"D","t":0.155,"y":55.3},{"g":"D","t":0.09,"y":57.4},{"g":"D","t":0.102,"y":58.6},{"g":"D","t":0.347,"y":32.4},{"g":"D","t":0.365,"y":35.6},{"g":"D","t":0.358,"y":44},{"g":"D","t":0.332,"y":52.3},{"g":"D","t":0.33,"y":57.4},{"g":"D","t":0.358,"y":57.4},{"g":"D","t":0.408,"y":38.9},{"g":"D","t":0.438,"y":40.7},{"g":"D","t":0.452,"y":39.8},{"g":"D","t":0.422,"y":45.8},{"g":"D","t":0.458,"y":50},{"g":"D","t":0.575,"y":36.5},{"g":"D","t":0.582,"y":36.1},{"g":"D","t":0.592,"y":36.5},{"g":"D","t":0.608,"y":36.7},{"g":"D","t":0.645,"y":34.7},{"g":"D","t":0.655,"y":37.5},{"g":"D","t":0.615,"y":39.1},{"g":"D","t":0.62,"y":40.7},{"g":"D","t":0.638,"y":40.7},{"g":"D","t":0.608,"y":43},{"g":"D","t":0.585,"y":48},{"g":"D","t":0.588,"y":52.3},{"g":"D","t":0.645,"y":51.2},{"g":"D","t":0.673,"y":54.4},{"g":"D","t":0.825,"y":31.4},{"g":"D","t":0.758,"y":41.9},{"g":"D","t":0.938,"y":41.9},{"g":"D","t":0.948,"y":47},{"g":"D","t":0.955,"y":58.5},{"g":"D","t":0.525,"y":40.7},{"g":"D","t":0.525,"y":47.2},{"g":"D","t":0.525,"y":49.5},{"g":"D","t":0.523,"y":53.2},{"g":"D","t":0.523,"y":55.3},{"g":"D","t":0.52,"y":58.8},{"g":"D","t":0.525,"y":50.5}
],
"psth":[
{"ser":"Control PSTH","t":-0.02,"v":0.03},{"ser":"Control PSTH","t":0,"v":0.02},{"ser":"Control PSTH","t":0.02,"v":0},{"ser":"Control PSTH","t":0.04,"v":3.68},{"ser":"Control PSTH","t":0.058,"v":0},{"ser":"Control PSTH","t":0.075,"v":0.04},{"ser":"Control PSTH","t":0.095,"v":0},{"ser":"Control PSTH","t":0.115,"v":0.38},{"ser":"Control PSTH","t":0.135,"v":0.19},{"ser":"Control PSTH","t":0.157,"v":0.15},{"ser":"Control PSTH","t":0.178,"v":0.53},{"ser":"Control PSTH","t":0.198,"v":0.37},{"ser":"Control PSTH","t":0.218,"v":0.1},{"ser":"Control PSTH","t":0.238,"v":0.51},{"ser":"Control PSTH","t":0.258,"v":0.54},{"ser":"Control PSTH","t":0.278,"v":0},{"ser":"Control PSTH","t":0.297,"v":2.37},{"ser":"Control PSTH","t":0.318,"v":0},{"ser":"Control PSTH","t":0.338,"v":0.13},{"ser":"Control PSTH","t":0.358,"v":0.71},{"ser":"Control PSTH","t":0.378,"v":0.21},{"ser":"Control PSTH","t":0.398,"v":0.38},{"ser":"Control PSTH","t":0.415,"v":0.84},{"ser":"Control PSTH","t":0.438,"v":0.05},{"ser":"Control PSTH","t":0.458,"v":0.36},{"ser":"Control PSTH","t":0.478,"v":0.43},{"ser":"Control PSTH","t":0.498,"v":0.05},{"ser":"Control PSTH","t":0.515,"v":0.1},{"ser":"Control PSTH","t":0.535,"v":2.11},{"ser":"Control PSTH","t":0.555,"v":0.5},{"ser":"Control PSTH","t":0.575,"v":0.05},{"ser":"Control PSTH","t":0.595,"v":0.33},{"ser":"Control PSTH","t":0.615,"v":0.26},{"ser":"Control PSTH","t":0.635,"v":0.13},{"ser":"Control PSTH","t":0.655,"v":0.36},{"ser":"Control PSTH","t":0.675,"v":0.05},{"ser":"Control PSTH","t":0.695,"v":0.08},{"ser":"Control PSTH","t":0.716,"v":0.33},{"ser":"Control PSTH","t":0.736,"v":0.16},{"ser":"Control PSTH","t":0.756,"v":0},{"ser":"Control PSTH","t":0.8,"v":0.02},{"ser":"Control PSTH","t":0.85,"v":0},{"ser":"Control PSTH","t":0.9,"v":0},{"ser":"Control PSTH","t":0.93,"v":0.02},{"ser":"Control PSTH","t":0.96,"v":0.04},{"ser":"Control PSTH","t":0.98,"v":0.03},{"ser":"Control PSTH","t":1,"v":0},
{"ser":"Drug PSTH","t":-0.02,"v":0.09},{"ser":"Drug PSTH","t":0,"v":0.02},{"ser":"Drug PSTH","t":0.02,"v":0},{"ser":"Drug PSTH","t":0.04,"v":3.24},{"ser":"Drug PSTH","t":0.058,"v":0},{"ser":"Drug PSTH","t":0.075,"v":0.1},{"ser":"Drug PSTH","t":0.095,"v":0},{"ser":"Drug PSTH","t":0.115,"v":0.15},{"ser":"Drug PSTH","t":0.135,"v":0.05},{"ser":"Drug PSTH","t":0.157,"v":0.02},{"ser":"Drug PSTH","t":0.178,"v":0.11},{"ser":"Drug PSTH","t":0.198,"v":0},{"ser":"Drug PSTH","t":0.218,"v":0},{"ser":"Drug PSTH","t":0.238,"v":0.03},{"ser":"Drug PSTH","t":0.258,"v":0},{"ser":"Drug PSTH","t":0.278,"v":0},{"ser":"Drug PSTH","t":0.297,"v":2.03},{"ser":"Drug PSTH","t":0.318,"v":0},{"ser":"Drug PSTH","t":0.338,"v":0},{"ser":"Drug PSTH","t":0.358,"v":0.07},{"ser":"Drug PSTH","t":0.378,"v":0.15},{"ser":"Drug PSTH","t":0.398,"v":0},{"ser":"Drug PSTH","t":0.418,"v":0},{"ser":"Drug PSTH","t":0.438,"v":0.07},{"ser":"Drug PSTH","t":0.458,"v":0.05},{"ser":"Drug PSTH","t":0.478,"v":0.07},{"ser":"Drug PSTH","t":0.498,"v":0},{"ser":"Drug PSTH","t":0.515,"v":0.05},{"ser":"Drug PSTH","t":0.535,"v":0.88},{"ser":"Drug PSTH","t":0.555,"v":0.13},{"ser":"Drug PSTH","t":0.575,"v":0},{"ser":"Drug PSTH","t":0.595,"v":0.13},{"ser":"Drug PSTH","t":0.615,"v":0.16},{"ser":"Drug PSTH","t":0.635,"v":0.11},{"ser":"Drug PSTH","t":0.655,"v":0.05},{"ser":"Drug PSTH","t":0.675,"v":0.13},{"ser":"Drug PSTH","t":0.695,"v":0.02},{"ser":"Drug PSTH","t":0.716,"v":0},{"ser":"Drug PSTH","t":0.8,"v":0.02},{"ser":"Drug PSTH","t":0.85,"v":0.03},{"ser":"Drug PSTH","t":0.9,"v":0},{"ser":"Drug PSTH","t":0.94,"v":0.02},{"ser":"Drug PSTH","t":0.96,"v":0.06},{"ser":"Drug PSTH","t":0.98,"v":0},{"ser":"Drug PSTH","t":1,"v":0}
],
"dd":[
{"n":1,"m":0.081,"lo":0,"hi":0.161,"ser":"Channel Average Normalized Spikes"},{"n":2,"m":0.075,"lo":0.023,"hi":0.127,"ser":"Channel Average Normalized Spikes"},{"n":3,"m":0.161,"lo":0.095,"hi":0.23,"ser":"Channel Average Normalized Spikes"},{"n":4,"m":0.103,"lo":0,"hi":0.203,"ser":"Channel Average Normalized Spikes"},{"n":5,"m":0.406,"lo":0.26,"hi":0.558,"ser":"Channel Average Normalized Spikes"},{"n":6,"m":0.358,"lo":0.234,"hi":0.479,"ser":"Channel Average Normalized Spikes"},{"n":7,"m":0.124,"lo":0.04,"hi":0.159,"ser":"Channel Average Normalized Spikes"},{"n":8,"m":0.49,"lo":0.28,"hi":0.71,"ser":"Channel Average Normalized Spikes"},{"n":9,"m":0.13,"lo":0.034,"hi":0.227,"ser":"Channel Average Normalized Spikes"},{"n":10,"m":0.135,"lo":0.055,"hi":0.216,"ser":"Channel Average Normalized Spikes"},{"n":11,"m":0.09,"lo":0.031,"hi":0.146,"ser":"Channel Average Normalized Spikes"},{"n":12,"m":0.186,"lo":0.108,"hi":0.267,"ser":"Channel Average Normalized Spikes"},{"n":13,"m":0.314,"lo":0.186,"hi":0.442,"ser":"Channel Average Normalized Spikes"},{"n":14,"m":0.27,"lo":0.141,"hi":0.39,"ser":"Channel Average Normalized Spikes"},{"n":15,"m":0.163,"lo":0,"hi":0.324,"ser":"Channel Average Normalized Spikes"},{"n":16,"m":0.437,"lo":0.307,"hi":0.567,"ser":"Channel Average Normalized Spikes"},{"n":17,"m":0.484,"lo":0.307,"hi":0.661,"ser":"Channel Average Normalized Spikes"},{"n":18,"m":0.331,"lo":0.208,"hi":0.435,"ser":"Channel Average Normalized Spikes"},{"n":19,"m":0.15,"lo":0.08,"hi":0.212,"ser":"Channel Average Normalized Spikes"},{"n":20,"m":0.287,"lo":0.203,"hi":0.355,"ser":"Channel Average Normalized Spikes"},{"n":21,"m":0.4,"lo":0.2,"hi":0.595,"ser":"Channel Average Normalized Spikes"},{"n":22,"m":0.387,"lo":0.342,"hi":0.43,"ser":"Channel Average Normalized Spikes"},{"n":23,"m":0.186,"lo":0.025,"hi":0.329,"ser":"Channel Average Normalized Spikes"},{"n":24,"m":0.415,"lo":0.327,"hi":0.508,"ser":"Channel Average Normalized Spikes"},{"n":25,"m":0.337,"lo":0.163,"hi":0.505,"ser":"Channel Average Normalized Spikes"},{"n":26,"m":0.389,"lo":0.278,"hi":0.504,"ser":"Channel Average Normalized Spikes"}
],
"ee":[
{"x":0,"m":0.794,"lo":0.768,"hi":0.823,"ser":"Release inhibition"},{"x":160,"m":0.689,"lo":0.59,"hi":0.793,"ser":"Release inhibition"},{"x":160,"m":0.637,"lo":0.583,"hi":0.69,"ser":"Release inhibition"},{"x":200,"m":0.585,"lo":0.535,"hi":0.635,"ser":"Release inhibition"},{"x":300,"m":0.332,"lo":0.29,"hi":0.373,"ser":"Release inhibition"},{"x":325,"m":0.28,"lo":0.237,"hi":0.324,"ser":"Release inhibition"},{"x":325,"m":0.212,"lo":0.154,"hi":0.27,"ser":"Release inhibition"},{"x":390,"m":0.212,"lo":0.168,"hi":0.257,"ser":"Release inhibition"}
],
"fit":[
{"x":0,"y":0.83,"ser":"Model Fitting"},{"x":20,"y":0.8267,"ser":"Model Fitting"},{"x":40,"y":0.8167,"ser":"Model Fitting"},{"x":60,"y":0.8005,"ser":"Model Fitting"},{"x":80,"y":0.7781,"ser":"Model Fitting"},{"x":100,"y":0.7504,"ser":"Model Fitting"},{"x":120,"y":0.7179,"ser":"Model Fitting"},{"x":140,"y":0.6813,"ser":"Model Fitting"},{"x":160,"y":0.6413,"ser":"Model Fitting"},{"x":180,"y":0.5988,"ser":"Model Fitting"},{"x":200,"y":0.5547,"ser":"Model Fitting"},{"x":220,"y":0.5096,"ser":"Model Fitting"},{"x":240,"y":0.4645,"ser":"Model Fitting"},{"x":260,"y":0.42,"ser":"Model Fitting"},{"x":280,"y":0.3767,"ser":"Model Fitting"},{"x":300,"y":0.3351,"ser":"Model Fitting"},{"x":320,"y":0.2957,"ser":"Model Fitting"},{"x":340,"y":0.2589,"ser":"Model Fitting"},{"x":360,"y":0.2248,"ser":"Model Fitting"},{"x":380,"y":0.1937,"ser":"Model Fitting"},{"x":390,"y":0.1792,"ser":"Model Fitting"}
]
},
"vconcat":[
{"hconcat":[
{"vconcat":[
{"width":756,"height":142,
"layer":[
{"data":{"name":"band"},"transform":[{"filter":"datum.k==1"}],"mark":{"type":"area","color":"#3b4fa8","opacity":0.55},
"encoding":{"x":{"field":"t","type":"quantitative","scale":{"domain":[-0.22,1.22],"nice":false,"zero":false},"axis":{"values":[-0.2,0,0.2,0.4,0.6,0.8,1,1.2],"labels":false,"title":null,"tickSize":-5}},
"y":{"field":"h","type":"quantitative","scale":{"domain":[-60,60],"nice":false,"zero":false},"axis":{"values":[-40,0,40],"labelFontSize":18,"tickSize":-5,"labelPadding":9,"title":null}},"y2":{"field":"l"}}},
{"data":{"name":"core"},"transform":[{"filter":"datum.k==1"}],"mark":{"type":"area","color":"#3b4fa8","opacity":0.9},"encoding":{"x":{"field":"t","type":"quantitative"},"y":{"field":"h","type":"quantitative"},"y2":{"field":"l"}}},
{"data":{"name":"spk"},"transform":[{"filter":"datum.k==1"}],"mark":{"type":"rule","color":"#3b4fa8","strokeWidth":1,"opacity":0.75},
"encoding":{"x":{"field":"t","type":"quantitative"},"y":{"field":"h","type":"quantitative"},"y2":{"field":"l"}}},
{"data":{"name":"pinkA"},"mark":{"type":"rect","color":"#e85764","opacity":0.42},"encoding":{"x":{"field":"s","type":"quantitative"},"x2":{"field":"e"}}},
{"data":{"name":"lbl"},"transform":[{"filter":"datum.k==1"}],"mark":{"type":"text","fontSize":27,"fontWeight":"bold","color":"black","align":"center","baseline":"middle"},"encoding":{"x":{"field":"t","type":"quantitative"},"y":{"field":"v","type":"quantitative"},"text":{"field":"label"}}},
{"data":{"name":"letters"},"transform":[{"filter":"datum.p=='a'"}],"mark":{"type":"text","fontSize":26,"fontWeight":"bold","color":"black","align":"left","baseline":"alphabetic"},"encoding":{"x":{"field":"x","type":"quantitative"},"y":{"field":"y","type":"quantitative"},"text":{"field":"label"}}}
]},
{"width":756,"height":142,
"layer":[
{"data":{"name":"band"},"transform":[{"filter":"datum.k==2"}],"mark":{"type":"area","color":"#3b4fa8","opacity":0.55},
"encoding":{"x":{"field":"t","type":"quantitative","scale":{"domain":[-0.22,1.22],"nice":false,"zero":false},"axis":{"values":[-0.2,0,0.2,0.4,0.6,0.8,1,1.2],"labels":false,"title":null,"tickSize":-5}},
"y":{"field":"h","type":"quantitative","scale":{"domain":[-60,60],"nice":false,"zero":false},"axis":{"values":[-40,0,40],"labelFontSize":18,"tickSize":-5,"labelPadding":9,"title":"Signal (µV)","titleFontSize":24,"titleX":-60,"titleY":71,"titleAlign":"center","titleBaseline":"middle"}},"y2":{"field":"l"}}},
{"data":{"name":"core"},"transform":[{"filter":"datum.k==2"}],"mark":{"type":"area","color":"#3b4fa8","opacity":0.9},"encoding":{"x":{"field":"t","type":"quantitative"},"y":{"field":"h","type":"quantitative"},"y2":{"field":"l"}}},
{"data":{"name":"spk"},"transform":[{"filter":"datum.k==2"}],"mark":{"type":"rule","color":"#3b4fa8","strokeWidth":1,"opacity":0.75},
"encoding":{"x":{"field":"t","type":"quantitative"},"y":{"field":"h","type":"quantitative"},"y2":{"field":"l"}}},
{"data":{"name":"pinkA"},"mark":{"type":"rect","color":"#e85764","opacity":0.42},"encoding":{"x":{"field":"s","type":"quantitative"},"x2":{"field":"e"}}},
{"data":{"name":"lbl"},"transform":[{"filter":"datum.k==2"}],"mark":{"type":"text","fontSize":27,"fontWeight":"bold","color":"#e8262c","align":"center","baseline":"middle"},"encoding":{"x":{"field":"t","type":"quantitative"},"y":{"field":"v","type":"quantitative"},"text":{"field":"label"}}},
{"data":{"name":"ell"},"mark":{"type":"point","shape":"M -0.615 0 A 0.615 1 0 1 0 0.615 0 A 0.615 1 0 1 0 -0.615 0 Z","size":16900,"filled":false,"color":"#8dc63f","stroke":"#8dc63f","strokeWidth":4,"opacity":1},"encoding":{"x":{"field":"t","type":"quantitative"},"y":{"field":"v","type":"quantitative"}}}
]},
{"width":756,"height":142,
"layer":[
{"data":{"name":"band"},"transform":[{"filter":"datum.k==3"}],"mark":{"type":"area","color":"#3b4fa8","opacity":0.55},
"encoding":{"x":{"field":"t","type":"quantitative","scale":{"domain":[-0.22,1.22],"nice":false,"zero":false},"axis":{"values":[-0.2,0,0.2,0.4,0.6,0.8,1,1.2],"format":"~g","labelFontSize":18,"tickSize":-5,"labelPadding":17,"title":"Time(s)","titleFontSize":25,"titleX":395,"titleY":49,"titleAlign":"center","titleBaseline":"middle"}},
"y":{"field":"h","type":"quantitative","scale":{"domain":[-60,60],"nice":false,"zero":false},"axis":{"values":[-40,0,40],"labelFontSize":18,"tickSize":-5,"labelPadding":9,"title":null}},"y2":{"field":"l"}}},
{"data":{"name":"core"},"transform":[{"filter":"datum.k==3"}],"mark":{"type":"area","color":"#3b4fa8","opacity":0.9},"encoding":{"x":{"field":"t","type":"quantitative"},"y":{"field":"h","type":"quantitative"},"y2":{"field":"l"}}},
{"data":{"name":"spk"},"transform":[{"filter":"datum.k==3"}],"mark":{"type":"rule","color":"#3b4fa8","strokeWidth":1,"opacity":0.75},
"encoding":{"x":{"field":"t","type":"quantitative"},"y":{"field":"h","type":"quantitative"},"y2":{"field":"l"}}},
{"data":{"name":"pinkA"},"mark":{"type":"rect","color":"#e85764","opacity":0.42},"encoding":{"x":{"field":"s","type":"quantitative"},"x2":{"field":"e"}}},
{"data":{"name":"lbl"},"transform":[{"filter":"datum.k==3"}],"mark":{"type":"text","fontSize":27,"fontWeight":"bold","color":"black","align":"center","baseline":"middle"},"encoding":{"x":{"field":"t","type":"quantitative"},"y":{"field":"v","type":"quantitative"},"text":{"field":"label"}}}
]}
],"spacing":11,"bounds":"flush","resolve":{"scale":{"x":"independent","y":"independent","color":"independent"},"legend":{"color":"independent"}}},
{"vconcat":[
{"width":341,"height":226,
"layer":[
{"data":{"name":"pinkB"},"mark":{"type":"rect","color":"#f7bdc2"},
"encoding":{"x":{"field":"s","type":"quantitative","scale":{"domain":[-0.021,1.003],"nice":false,"zero":false},"axis":{"values":[0,0.2,0.4,0.6,0.8,1],"format":"~g","labelFontSize":19,"tickSize":-5,"labelPadding":11,"title":"Time(s)","titleFontSize":19,"titleX":185,"titleY":34,"titleAlign":"center","titleBaseline":"middle"}},"x2":{"field":"e"},
"y":{"datum":0,"type":"quantitative","scale":{"domain":[-3.07,60],"reverse":true,"nice":false,"zero":false},"axis":{"values":[15,45],"labelExpr":"datum.value < 30 ? 'Control' : 'Drug'","labelAngle":-90,"labelAlign":"center","labelBaseline":"middle","labelPadding":18,"ticks":false,"tickSize":0,"domain":false,"labelFontSize":18,"labelColor":{"condition":{"test":"datum.value > 30","value":"#ee1c24"},"value":"black"},"title":"Trials","titleFontSize":18,"titleX":-42,"titleY":120,"titleAlign":"center","titleBaseline":"middle"}},"y2":{"datum":60}}},
{"data":{"name":"blueB"},"mark":{"type":"rect","color":"#bfbee0"},"encoding":{"x":{"field":"s","type":"quantitative"},"x2":{"field":"e"},"y":{"datum":0,"type":"quantitative"},"y2":{"datum":60}}},
{"data":{"name":"rcol"},"mark":{"type":"line","strokeWidth":3},"encoding":{"x":{"field":"t","type":"quantitative"},"y":{"field":"y","type":"quantitative"},"order":{"field":"y","type":"quantitative"},"detail":{"field":"col"},"color":{"field":"g","type":"nominal","scale":{"domain":["C","D"],"range":["black","#ee1c24"]},"legend":null}}},
{"data":{"name":"rast"},"mark":{"type":"tick","orient":"vertical","size":4,"thickness":2,"opacity":1},"encoding":{"x":{"field":"t","type":"quantitative"},"y":{"field":"y","type":"quantitative"},"color":{"field":"g","type":"nominal","legend":null}}},
{"data":{"values":[{}]},"mark":{"type":"rule","color":"black","strokeWidth":1.5},"encoding":{"y":{"datum":30,"type":"quantitative"}}},
{"data":{"values":[{}]},"mark":{"type":"rule","color":"black","strokeWidth":1.5},"encoding":{"x":{"datum":-0.021,"type":"quantitative"},"y":{"datum":0,"type":"quantitative"},"y2":{"datum":60}}},
{"data":{"name":"letters"},"transform":[{"filter":"datum.p=='b'"}],"mark":{"type":"text","fontSize":26,"fontWeight":"bold","color":"black","align":"left","baseline":"alphabetic"},"encoding":{"x":{"field":"x","type":"quantitative"},"y":{"field":"y","type":"quantitative"},"text":{"field":"label"}}}
]},
{"width":341,"height":216,
"layer":[
{"data":{"name":"psth"},"mark":{"type":"line","strokeWidth":2},"encoding":{"x":{"field":"t","type":"quantitative","scale":{"domain":[-0.021,1.003],"nice":false,"zero":false},"axis":{"values":[0,0.2,0.4,0.6,0.8,1],"format":"~g","labelFontSize":19,"tickSize":-5,"labelPadding":9,"title":"Time(s)","titleFontSize":19,"titleX":105,"titleY":33,"titleAlign":"center","titleBaseline":"middle"}},
"y":{"field":"v","type":"quantitative","scale":{"domain":[0,3.68],"nice":false,"zero":false},"axis":{"values":[0,0.5,1,1.5,2,2.5,3,3.5],"format":"~g","labelExpr":"datum.value % 1 == 0 ? datum.label : ''","labelFontSize":19,"tickSize":-5,"labelPadding":12,"title":"Spike Count","titleFontSize":18,"titleX":-37,"titleY":118,"titleAlign":"center","titleBaseline":"middle"}},
"color":{"field":"ser","type":"nominal","scale":{"domain":["Control PSTH","Drug PSTH"],"range":["black","#ff1a1a"]},"legend":{"orient":"none","legendX":262,"legendY":12,"title":null,"symbolType":"stroke","symbolSize":324,"symbolStrokeWidth":2,"labelFontSize":13,"labelFontWeight":"bold","strokeColor":"black","fillColor":"white","padding":3,"rowPadding":0,"labelOffset":2,"encode":{"labels":{"update":{"fill":{"signal":"datum.label == 'Drug PSTH' ? '#ff1a1a' : 'black'"}}}}}}}},
{"data":{"name":"pinkB"},"mark":{"type":"rect","color":"#e85764","opacity":0.4},"encoding":{"x":{"field":"s","type":"quantitative"},"x2":{"field":"e"}}},
{"data":{"name":"blueB"},"mark":{"type":"rect","color":"#5a58af","opacity":0.4},"encoding":{"x":{"field":"s","type":"quantitative"},"x2":{"field":"e"}}},
{"data":{"name":"letters"},"transform":[{"filter":"datum.p=='c'"}],"mark":{"type":"text","fontSize":26,"fontWeight":"bold","color":"black","align":"left","baseline":"alphabetic"},"encoding":{"x":{"field":"x","type":"quantitative"},"y":{"field":"y","type":"quantitative"},"text":{"field":"label"}}}
]}
],"spacing":51,"bounds":"flush","resolve":{"scale":{"x":"independent","y":"independent","color":"independent"},"legend":{"color":"independent"}}}
],"spacing":31,"resolve":{"scale":{"x":"independent","y":"independent","color":"independent"},"legend":{"color":"independent"}}},
{"hconcat":[
{"width":535,"height":415,
"layer":[
{"data":{"name":"dd"},"mark":{"type":"line","strokeWidth":2.5},"encoding":{"x":{"field":"n","type":"quantitative","scale":{"domain":[-0.283,30],"nice":false,"zero":false},"axis":{"values":[0,5,10,15,20,25,30],"domain":false,"tickSize":-7,"tickWidth":2,"labelFontSize":24,"labelPadding":15,"title":"Drug Release Trial","titleFontSize":28,"titleX":272,"titleY":47,"titleAlign":"center","titleBaseline":"middle"}},
"y":{"field":"m","type":"quantitative","scale":{"domain":[0,1.1],"nice":false,"zero":false},"axis":{"values":[0,0.2,0.4,0.6,0.8,1],"format":"~g","offset":-5,"domainWidth":2,"tickSize":-7,"tickWidth":2,"labelFontSize":24,"labelPadding":12,"title":"Normalized Spike Count","titleFontSize":29,"titleX":-58,"titleY":207,"titleAlign":"center","titleBaseline":"middle"}},
"color":{"field":"ser","type":"nominal","scale":{"range":["#3a54a8"]},"legend":{"orient":"none","legendX":125,"legendY":50,"title":null,"symbolType":"stroke","symbolSize":1225,"symbolStrokeWidth":2.5,"labelFontSize":24,"labelFontWeight":"bold","strokeColor":"black","fillColor":"white","padding":3,"labelOffset":4}}}},
{"data":{"name":"dd"},"mark":{"type":"rule","strokeWidth":2,"color":"#3a54a8"},"encoding":{"x":{"field":"n","type":"quantitative"},"y":{"field":"lo","type":"quantitative"},"y2":{"field":"hi"}}},
{"data":{"name":"dd"},"mark":{"type":"tick","orient":"horizontal","size":8,"thickness":2,"color":"#3a54a8","opacity":1},"encoding":{"x":{"field":"n","type":"quantitative"},"y":{"field":"hi","type":"quantitative"}}},
{"data":{"name":"dd"},"mark":{"type":"tick","orient":"horizontal","size":8,"thickness":2,"color":"#3a54a8","opacity":1},"encoding":{"x":{"field":"n","type":"quantitative"},"y":{"field":"lo","type":"quantitative"}}},
{"data":{"values":[{}]},"mark":{"type":"rule","color":"black","strokeWidth":3,"strokeDash":[3,2.5]},"encoding":{"x":{"datum":0,"type":"quantitative"},"x2":{"datum":30},"y":{"datum":1,"type":"quantitative"}}},
{"data":{"values":[{}]},"mark":{"type":"rule","color":"black","strokeWidth":2},"encoding":{"x":{"datum":0,"type":"quantitative"},"x2":{"datum":30},"y":{"datum":0,"type":"quantitative"}}},
{"data":{"name":"letters"},"transform":[{"filter":"datum.p=='d'"}],"mark":{"type":"text","fontSize":24,"fontWeight":"bold","color":"black","align":"left","baseline":"alphabetic"},"encoding":{"x":{"field":"x","type":"quantitative"},"y":{"field":"y","type":"quantitative"},"text":{"field":"label"}}}
]},
{"width":505,"height":413,
"layer":[
{"data":{"name":"fit"},"mark":{"type":"line","strokeWidth":2},"encoding":{"x":{"field":"x","type":"quantitative","scale":{"domain":[-20,436],"nice":false,"zero":false},"axis":{"values":[0,100,200,300,400],"tickSize":-7,"tickWidth":2,"domainWidth":2,"labelFontSize":24,"labelPadding":15,"title":"distance(µm)","titleFontSize":27,"titleX":261,"titleY":47,"titleAlign":"center","titleBaseline":"middle"}},
"y":{"field":"y","type":"quantitative","scale":{"domain":[0,1.0325],"nice":false,"zero":false},"axis":{"values":[0,0.2,0.4,0.6,0.8,1],"format":"~g","domain":false,"tickSize":-7,"tickWidth":2,"labelFontSize":24,"labelPadding":16,"title":"Drug Suppression Effect","titleFontSize":28,"titleX":-61,"titleY":212,"titleAlign":"center","titleBaseline":"middle"}},
"color":{"field":"ser","type":"nominal","scale":{"domain":["Release inhibition","Model Fitting"],"range":["#3552a8","#ee2a2a"]},"legend":{"orient":"none","legendX":227,"legendY":22,"title":null,"symbolType":"stroke","symbolSize":900,"symbolStrokeWidth":2,"labelFontSize":24,"labelFontWeight":"bold","strokeColor":"black","fillColor":"white","padding":6,"rowPadding":2,"labelOffset":20,"encode":{"labels":{"update":{"fill":{"signal":"datum.label == 'Model Fitting' ? '#ee2a2a' : '#3552a8'"}}}}}}}},
{"data":{"name":"ee"},"mark":{"type":"rule","strokeWidth":2.5},"encoding":{"x":{"field":"x","type":"quantitative"},"y":{"field":"lo","type":"quantitative"},"y2":{"field":"hi"},"color":{"field":"ser","type":"nominal"}}},
{"data":{"name":"ee"},"mark":{"type":"tick","orient":"horizontal","size":10,"thickness":2.5,"color":"#3552a8","opacity":1},"encoding":{"x":{"field":"x","type":"quantitative"},"y":{"field":"hi","type":"quantitative"}}},
{"data":{"name":"ee"},"mark":{"type":"tick","orient":"horizontal","size":10,"thickness":2.5,"color":"#3552a8","opacity":1},"encoding":{"x":{"field":"x","type":"quantitative"},"y":{"field":"lo","type":"quantitative"}}},
{"data":{"name":"ee"},"mark":{"type":"circle","size":70,"color":"#3552a8","opacity":1},"encoding":{"x":{"field":"x","type":"quantitative"},"y":{"field":"m","type":"quantitative"}}},
{"data":{"values":[{}]},"mark":{"type":"rule","color":"black","strokeWidth":2},"encoding":{"x":{"datum":-20,"type":"quantitative"},"y":{"datum":0,"type":"quantitative"},"y2":{"datum":1}}},
{"data":{"name":"letters"},"transform":[{"filter":"datum.p=='e'"}],"mark":{"type":"text","fontSize":24,"fontWeight":"bold","color":"black","align":"left","baseline":"alphabetic"},"encoding":{"x":{"field":"x","type":"quantitative"},"y":{"field":"y","type":"quantitative"},"text":{"field":"label"}}}
]}
],"spacing":176,"bounds":"flush","resolve":{"scale":{"x":"independent","y":"independent","color":"independent"},"legend":{"color":"independent"}}}
],
"spacing":16,
"resolve":{"scale":{"x":"independent","y":"independent","color":"independent"},"legend":{"color":"independent"}}
}
